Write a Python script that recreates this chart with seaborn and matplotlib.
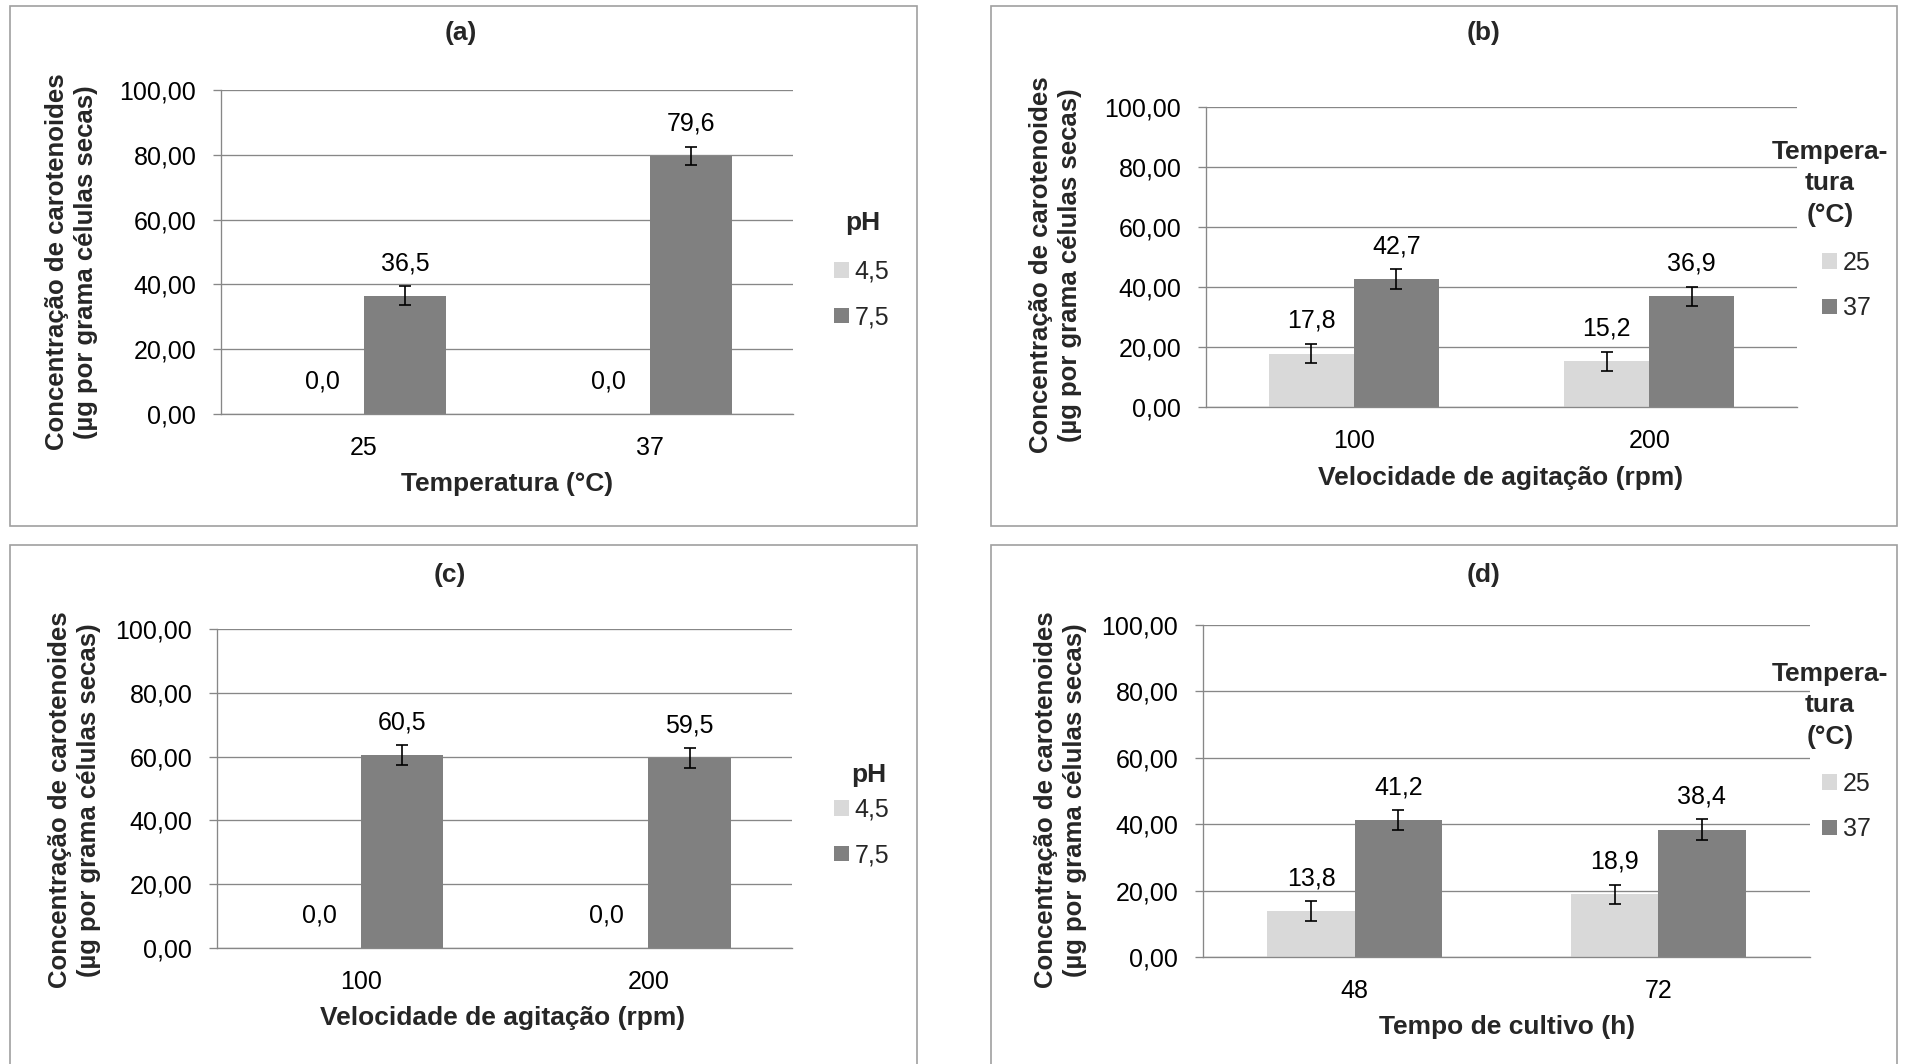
import numpy as np
import pandas as pd
import matplotlib
matplotlib.use("Agg")
import matplotlib.pyplot as plt
import seaborn as sns
from matplotlib.patches import Rectangle, Patch
from matplotlib.ticker import FuncFormatter, FixedLocator

# ---------------- data ----------------
a_categories = ["25", "37"]
a_hue_levels = ["4,5", "7,5"]
a_values_low = [0.0, 0.0]
a_values_high = [36.5, 79.6]
a_err_low = [0.0, 0.0]
a_err_high = [3.0, 2.8]

b_categories = ["100", "200"]
b_hue_levels = ["25", "37"]
b_values_low = [17.8, 15.2]
b_values_high = [42.7, 36.9]
b_err_low = [3.2, 3.2]
b_err_high = [3.2, 3.1]

c_categories = ["100", "200"]
c_hue_levels = ["4,5", "7,5"]
c_values_low = [0.0, 0.0]
c_values_high = [60.5, 59.5]
c_err_low = [0.0, 0.0]
c_err_high = [3.1, 3.1]

d_categories = ["48", "72"]
d_hue_levels = ["25", "37"]
d_values_low = [13.8, 18.9]
d_values_high = [41.2, 38.4]
d_err_low = [3.1, 2.9]
d_err_high = [3.0, 3.1]

y_ticks = [0, 20, 40, 60, 80, 100]
panel_titles = ["(a)", "(b)", "(c)", "(d)"]
x_labels = ["Temperatura (°C)", "Velocidade de agitação (rpm)",
            "Velocidade de agitação (rpm)", "Tempo de cultivo (h)"]
y_label = "Concentração de carotenoides\n(µg por grama células secas)"
legend_titles = ["pH", "Tempera-\ntura\n(°C)", "pH", "Tempera-\ntura\n(°C)"]

# ---------------- style ----------------
sns.set_theme(style="white")
plt.rcParams["font.family"] = ["Liberation Sans", "DejaVu Sans"]

W, H = 1910, 1064
fig = plt.figure(figsize=(W / 100, H / 100), dpi=100)
fig.patch.set_facecolor("white")

LIGHT = "#D9D9D9"
DARK = "#808080"
GRID = "#878787"
BORDER = "#A0A0A0"
TICK_FS = 18
LABEL_FS = 19
YLABEL_FS = 18.5


def fx(x):
    return x / W


def fy(y):
    return 1 - y / H


def comma(v, dec):
    return f"{v:.{dec}f}".replace(".", ",")


panels = [
    dict(cats=a_categories, hues=a_hue_levels, low=a_values_low, high=a_values_high,
         elow=a_err_low, ehigh=a_err_high,
         ax=(221, 90, 793, 414), border=(10, 6, 917, 526), title=(461, 33),
         xlab=(507, 484), ylab=(71.5, 262), leg=(834, 294.5), legt=(863, 223)),
    dict(cats=b_categories, hues=b_hue_levels, low=b_values_low, high=b_values_high,
         elow=b_err_low, ehigh=b_err_high,
         ax=(1206, 107, 1797, 407), border=(991, 6, 1897, 526), title=(1484, 33),
         xlab=(1501, 478), ylab=(1055.5, 265), leg=(1822, 285.5), legt=(1830, 183.5)),
    dict(cats=c_categories, hues=c_hue_levels, low=c_values_low, high=c_values_high,
         elow=c_err_low, ehigh=c_err_high,
         ax=(217, 629, 792, 948), border=(10, 545, 917, 1100), title=(450, 575),
         xlab=(503, 1018), ylab=(74.5, 800), leg=(834, 832.5), legt=(869, 775)),
    dict(cats=d_categories, hues=d_hue_levels, low=d_values_low, high=d_values_high,
         elow=d_err_low, ehigh=d_err_high,
         ax=(1203, 625, 1810, 957), border=(991, 545, 1897, 1100), title=(1484, 575),
         xlab=(1507, 1027), ylab=(1060.5, 800), leg=(1822, 806.5), legt=(1830, 705.5)),
]

for i, p in enumerate(panels):
    # panel border
    bx0, by0, bx1, by1 = p["border"]
    fig.patches.append(Rectangle((fx(bx0), fy(by1)), (bx1 - bx0) / W, (by1 - by0) / H,
                                 transform=fig.transFigure, fill=False,
                                 edgecolor=BORDER, linewidth=1.2, zorder=0))
    x0, y0, x1, y1 = p["ax"]
    ax = fig.add_axes([fx(x0), fy(y1), (x1 - x0) / W, (y1 - y0) / H])

    df = pd.DataFrame({
        "cat": p["cats"] * 2,
        "hue": [p["hues"][0]] * len(p["cats"]) + [p["hues"][1]] * len(p["cats"]),
        "val": list(p["low"]) + list(p["high"]),
    })
    sns.barplot(data=df, x="cat", y="val", hue="hue", order=p["cats"],
                hue_order=p["hues"], palette=[LIGHT, DARK], saturation=1,
                width=0.575, errorbar=None, linewidth=0, legend=False, ax=ax,
                zorder=2)
    ax.set_xlim(-0.5, len(p["cats"]) - 0.5)

    # bars sorted left to right: cat0-low, cat0-high, cat1-low, cat1-high
    bars = sorted([r for r in ax.patches if isinstance(r, Rectangle)],
                  key=lambda r: r.get_x())
    vals, errs = [], []
    for j in range(len(p["cats"])):
        vals += [p["low"][j], p["high"][j]]
        errs += [p["elow"][j], p["ehigh"][j]]
    xs, ys, es = [], [], []
    for bar, v, e in zip(bars, vals, errs):
        xc = bar.get_x() + bar.get_width() / 2
        if e > 0:
            xs.append(xc)
            ys.append(v)
            es.append(e)
        ax.annotate(comma(v, 1), xy=(xc, v), xytext=(0, 23.5),
                    textcoords="offset points", ha="center", va="center",
                    fontsize=TICK_FS, color="black", zorder=5)
    ax.errorbar(xs, ys, yerr=es, fmt="none", ecolor="black",
                elinewidth=1.2, capsize=4.3, capthick=1.2, zorder=4)

    ax.set_ylim(0, 100)
    ax.yaxis.set_major_locator(FixedLocator(y_ticks))
    ax.yaxis.set_major_formatter(FuncFormatter(lambda v, pos: comma(v, 2)))
    ax.set_axisbelow(True)
    ax.grid(axis="y", color=GRID, linewidth=0.95)
    ax.grid(axis="x", visible=False)
    for s in ["top", "right"]:
        ax.spines[s].set_visible(False)
    for s in ["left", "bottom"]:
        ax.spines[s].set_color(GRID)
        ax.spines[s].set_linewidth(0.95)
    ax.tick_params(axis="y", which="major", left=True, length=5.8, width=0.95,
                   color=GRID, pad=12, labelsize=TICK_FS, labelcolor="black")
    ax.tick_params(axis="x", length=0, pad=16, labelsize=TICK_FS, labelcolor="black")

    ax.set_xlabel(x_labels[i], fontsize=LABEL_FS, fontweight="bold", va="center")
    ax.xaxis.set_label_coords(fx(p["xlab"][0]), fy(p["xlab"][1]), transform=fig.transFigure)
    ax.set_ylabel(y_label, fontsize=YLABEL_FS, fontweight="bold", va="center",
                  ha="center", multialignment="center", linespacing=1.3)
    ax.yaxis.set_label_coords(fx(p["ylab"][0]), fy(p["ylab"][1]), transform=fig.transFigure)

    fig.text(fx(p["title"][0]), fy(p["title"][1]), panel_titles[i], ha="center",
             va="center", fontsize=LABEL_FS, fontweight="bold")

    handles = [Patch(facecolor=LIGHT, edgecolor="none"), Patch(facecolor=DARK, edgecolor="none")]
    ax.legend(handles, p["hues"], loc="center left",
              bbox_to_anchor=(fx(p["leg"][0]), fy(p["leg"][1])),
              bbox_transform=fig.transFigure, frameon=False, fontsize=TICK_FS,
              handlelength=0.58, handleheight=0.58, handletextpad=0.25,
              labelspacing=0.85, borderpad=0, borderaxespad=0)
    fig.text(fx(p["legt"][0]), fy(p["legt"][1]), legend_titles[i], ha="center",
             va="center", multialignment="center", fontsize=LABEL_FS,
             fontweight="bold", linespacing=1.4)

fig.savefig("out.png", dpi=100, facecolor="white")
